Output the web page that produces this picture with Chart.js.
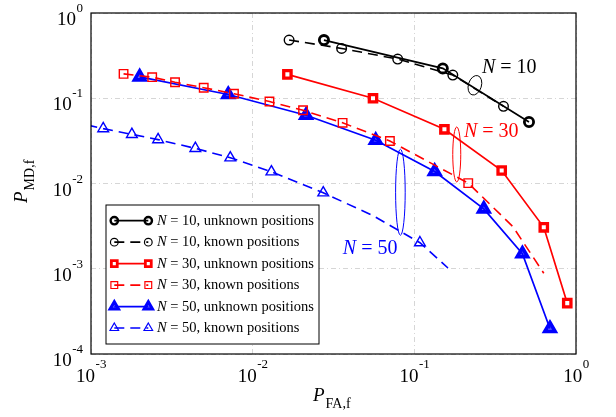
<!DOCTYPE html>
<html>
<head>
<meta charset="utf-8">
<script src="https://cdn.jsdelivr.net/npm/chart.js@4.4.0/dist/chart.umd.min.js"></script>
<style>
  html, body { margin: 0; padding: 0; background: #fff; }
  canvas { display: block; }
</style>
</head>
<body>
<canvas id="roc" width="616" height="417"></canvas>
<script>
// decade ticks on both axes
const xTicks = [1e-3, 1e-2, 1e-1, 1];
const yTicks = [1e-4, 1e-3, 1e-2, 1e-1, 1];

// N = 10
const n10UnknownFA = [0.0276, 0.150, 0.512];
const n10UnknownMD = [0.481, 0.224, 0.0527];
const n10KnownFA = [0.0168, 0.0355, 0.0789, 0.173, 0.356];
const n10KnownMD = [0.482, 0.384, 0.288, 0.187, 0.0805];

// N = 30
const n30UnknownFA = [0.0164, 0.0555, 0.1535, 0.347, 0.632, 0.883];
const n30UnknownMD = [0.1905, 0.100, 0.0432, 0.0142, 0.00306, 0.000395];
const n30KnownFA = [0.00159, 0.00239, 0.00331, 0.00498, 0.00766, 0.0127, 0.0205, 0.0360, 0.0706, 0.2155, 0.407, 0.632];
const n30KnownMD = [0.193, 0.1767, 0.1542, 0.1329, 0.113, 0.0915, 0.0722, 0.0515, 0.0315, 0.0101, 0.00312, 0.000885];
const n30KnownNoMarker = [10, 11];

// N = 50
const n50UnknownFA = [0.0020, 0.00706, 0.0214, 0.0577, 0.1336, 0.269, 0.466, 0.690];
const n50UnknownMD = [0.178, 0.1106, 0.0631, 0.0321, 0.01384, 0.00504, 0.0015, 0.000199];
const n50KnownFA = [0.00095, 0.00119, 0.00179, 0.00260, 0.00442, 0.00727, 0.01306, 0.02733, 0.0555, 0.1083, 0.1615];
const n50KnownMD = [0.0485, 0.0440, 0.0377, 0.0327, 0.0258, 0.02006, 0.01373, 0.00778, 0.0042, 0.00202, 0.00102];
const n50KnownNoMarker = [0, 8, 10];

const groupLabels = ['N = 10', 'N = 30', 'N = 50'];

const SERIF = "'Liberation Serif', 'Times New Roman', serif";
const RED = '#ff0000';
const BLUE = '#0000ff';

const pts = (xs, ys) => xs.map((x, i) => ({ x: x, y: ys[i] }));
const radii = (n, r, skip) => Array.from({ length: n }, (_, i) => (skip && skip.includes(i)) ? 0 : r);

const datasets = [
  {
    label: 'N = 10, unknown positions',
    data: pts(n10UnknownFA, n10UnknownMD),
    borderColor: '#000', borderWidth: 1.7,
    pointStyle: 'circle', pointRadius: 4.6, pointBorderWidth: 2.8,
    pointBorderColor: '#000', pointBackgroundColor: 'rgba(255,255,255,0)'
  },
  {
    label: 'N = 10, known positions',
    data: pts(n10KnownFA, n10KnownMD),
    borderColor: '#000', borderWidth: 1.6, borderDash: [10, 6],
    pointStyle: 'circle', pointRadius: 4.8, pointBorderWidth: 1.4,
    pointBorderColor: '#000', pointBackgroundColor: 'rgba(255,255,255,0)'
  },
  {
    label: 'N = 30, unknown positions',
    data: pts(n30UnknownFA, n30UnknownMD),
    borderColor: RED, borderWidth: 1.7,
    pointStyle: 'rect', pointRadius: 5.2, pointBorderWidth: 3.3,
    pointBorderColor: RED, pointBackgroundColor: '#fff'
  },
  {
    label: 'N = 30, known positions',
    data: pts(n30KnownFA, n30KnownMD),
    borderColor: RED, borderWidth: 1.6, borderDash: [10, 6],
    pointStyle: 'rect', pointRadius: radii(n30KnownFA.length, 6, n30KnownNoMarker), pointBorderWidth: 1.4,
    pointBorderColor: RED, pointBackgroundColor: 'rgba(255,255,255,0)'
  },
  {
    label: 'N = 50, unknown positions',
    data: pts(n50UnknownFA, n50UnknownMD),
    borderColor: BLUE, borderWidth: 1.7,
    pointStyle: 'triangle', pointRadius: 6, pointBorderWidth: 3.6,
    pointBorderColor: BLUE, pointBackgroundColor: 'rgba(0,0,255,0.6)'
  },
  {
    label: 'N = 50, known positions',
    data: pts(n50KnownFA, n50KnownMD),
    borderColor: BLUE, borderWidth: 1.6, borderDash: [10, 6],
    pointStyle: 'triangle', pointRadius: radii(n50KnownFA.length, 6.2, n50KnownNoMarker), pointBorderWidth: 1.4,
    pointBorderColor: BLUE, pointBackgroundColor: 'rgba(255,255,255,0)',
    clip: 0
  }
];

// small helpers for drawing on the canvas
function marker(ctx, style, x, y, r) {
  ctx.beginPath();
  if (style === 'circle') {
    ctx.arc(x, y, r, 0, Math.PI * 2);
  } else if (style === 'rect') {
    const s = Math.SQRT1_2 * r;
    ctx.rect(x - s, y - s, 2 * s, 2 * s);
  } else {
    let a = 0;
    ctx.moveTo(x + Math.sin(a) * r, y - Math.cos(a) * r);
    a += 2 * Math.PI / 3;
    ctx.lineTo(x + Math.sin(a) * r, y - Math.cos(a) * r);
    a += 2 * Math.PI / 3;
    ctx.lineTo(x + Math.sin(a) * r, y - Math.cos(a) * r);
  }
  ctx.closePath();
  ctx.fill();
  ctx.stroke();
}

// label like "N = 10..." with italic N
function italicN(ctx, text, x, y, size) {
  ctx.font = 'italic ' + size + 'px ' + SERIF;
  ctx.fillText(text[0], x, y);
  const w = ctx.measureText(text[0]).width;
  ctx.font = size + 'px ' + SERIF;
  ctx.fillText(text.slice(1), x + w, y);
}

function powerLabel(v) {
  return { base: '10', exp: String(Math.round(Math.log10(v))) };
}

const decor = {
  id: 'decor',
  afterDraw(chart) {
    const { ctx, chartArea: a, scales: { x, y } } = chart;
    ctx.save();

    // box
    ctx.strokeStyle = '#000';
    ctx.lineWidth = 1.2;
    ctx.setLineDash([]);
    ctx.strokeRect(a.left, a.top, a.right - a.left, a.bottom - a.top);

    // tick labels 10^k
    ctx.fillStyle = '#000';
    ctx.textBaseline = 'alphabetic';
    ctx.textAlign = 'left';
    xTicks.forEach(v => {
      const p = powerLabel(v);
      ctx.font = '19px ' + SERIF;
      const wb = ctx.measureText(p.base).width;
      ctx.font = '13px ' + SERIF;
      const we = ctx.measureText(p.exp).width;
      const left = x.getPixelForValue(v) - (wb + we) / 2;
      ctx.font = '19px ' + SERIF;
      ctx.fillText(p.base, left, a.bottom + 27.5);
      ctx.font = '13px ' + SERIF;
      ctx.fillText(p.exp, left + wb + 0.5, a.bottom + 14);
    });
    yTicks.forEach(v => {
      const p = powerLabel(v);
      ctx.font = '19px ' + SERIF;
      const wb = ctx.measureText(p.base).width;
      ctx.font = '13px ' + SERIF;
      const we = ctx.measureText(p.exp).width;
      const py = y.getPixelForValue(v);
      const left = a.left - 8 - we - wb - 0.5;
      ctx.font = '19px ' + SERIF;
      ctx.fillText(p.base, left, py + 12);
      ctx.font = '13px ' + SERIF;
      ctx.fillText(p.exp, left + wb + 0.5, py - 1);
    });

    // axis titles
    ctx.font = 'italic 19px ' + SERIF;
    ctx.fillText('P', 313, 401);
    let wp = ctx.measureText('P').width;
    ctx.font = '14px ' + SERIF;
    ctx.fillText('FA,f', 313 + wp + 1, 408);

    ctx.save();
    ctx.translate(27, 203);
    ctx.rotate(-Math.PI / 2);
    ctx.font = 'italic 19px ' + SERIF;
    ctx.fillText('P', 0, 0);
    wp = ctx.measureText('P').width;
    ctx.font = '14px ' + SERIF;
    ctx.fillText('MD,f', wp + 1, 7);
    ctx.restore();

    // group marks: ellipse around the pair of curves and its label
    const groups = [
      { fa: 0.237, md: 0.142, rx: 6.5, ry: 10, rot: 0.3, tFa: 0.262, tMd: 0.227, color: '#000' },
      { fa: 0.183, md: 0.0219, rx: 4, ry: 27.5, rot: 0, tFa: 0.2028, tMd: 0.0409, color: RED },
      { fa: 0.082, md: 0.0079, rx: 4.8, ry: 43, rot: 0, tFa: 0.0361, tMd: 0.0017, color: BLUE }
    ];
    groups.forEach((g, i) => {
      ctx.strokeStyle = g.color;
      ctx.fillStyle = g.color;
      ctx.lineWidth = 1;
      ctx.beginPath();
      ctx.ellipse(x.getPixelForValue(g.fa), y.getPixelForValue(g.md), g.rx, g.ry, g.rot, 0, Math.PI * 2);
      ctx.stroke();
      ctx.textBaseline = 'middle';
      italicN(ctx, groupLabels[i], x.getPixelForValue(g.tFa), y.getPixelForValue(g.tMd), 20);
    });

    // legend
    const lx = 106, ly = 205, lw = 213, lh = 139, step = 21.46;
    ctx.fillStyle = '#fff';
    ctx.fillRect(lx, ly, lw, lh);
    ctx.strokeStyle = '#000';
    ctx.lineWidth = 1;
    ctx.strokeRect(lx, ly, lw, lh);
    chart.data.datasets.forEach((ds, i) => {
      const ry = ly + 15.7 + i * step;
      const x0 = lx + 8.3, x1 = lx + 42.3;
      ctx.strokeStyle = ds.borderColor;
      ctx.lineWidth = ds.borderWidth;
      ctx.setLineDash(ds.borderDash || []);
      ctx.beginPath();
      ctx.moveTo(x0, ry);
      ctx.lineTo(x1, ry);
      ctx.stroke();
      ctx.setLineDash([]);
      const r = Array.isArray(ds.pointRadius) ? Math.max(...ds.pointRadius) : ds.pointRadius;
      ctx.lineWidth = ds.pointBorderWidth * 0.85;
      ctx.fillStyle = ds.pointBackgroundColor;
      marker(ctx, ds.pointStyle, x0, ry, r * 0.8);
      marker(ctx, ds.pointStyle, x1, ry, r * 0.8);
      ctx.fillStyle = '#000';
      ctx.textBaseline = 'middle';
      italicN(ctx, ds.label, lx + 51, ry + 0.5, 14.5);
    });

    ctx.restore();
  }
};

new Chart(document.getElementById('roc'), {
  type: 'scatter',
  data: { datasets: datasets.map(d => Object.assign({ showLine: true, tension: 0, fill: false }, d)) },
  options: {
    responsive: false,
    animation: false,
    layout: { padding: { left: 91, right: 40, top: 13, bottom: 63 } },
    plugins: { legend: { display: false }, tooltip: { enabled: false } },
    scales: {
      x: {
        type: 'logarithmic', min: 1e-3, max: 1,
        afterBuildTicks: axis => { axis.ticks = xTicks.map(v => ({ value: v })); },
        ticks: { display: false },
        grid: { color: '#d6d6d6', lineWidth: 1, drawTicks: false },
        border: { display: false, dash: [5, 3, 1, 3] }
      },
      y: {
        type: 'logarithmic', min: 1e-4, max: 1,
        afterBuildTicks: axis => { axis.ticks = yTicks.map(v => ({ value: v })); },
        ticks: { display: false },
        grid: { color: '#d6d6d6', lineWidth: 1, drawTicks: false },
        border: { display: false, dash: [5, 3, 1, 3] }
      }
    }
  },
  plugins: [decor]
});
</script>
</body>
</html>
